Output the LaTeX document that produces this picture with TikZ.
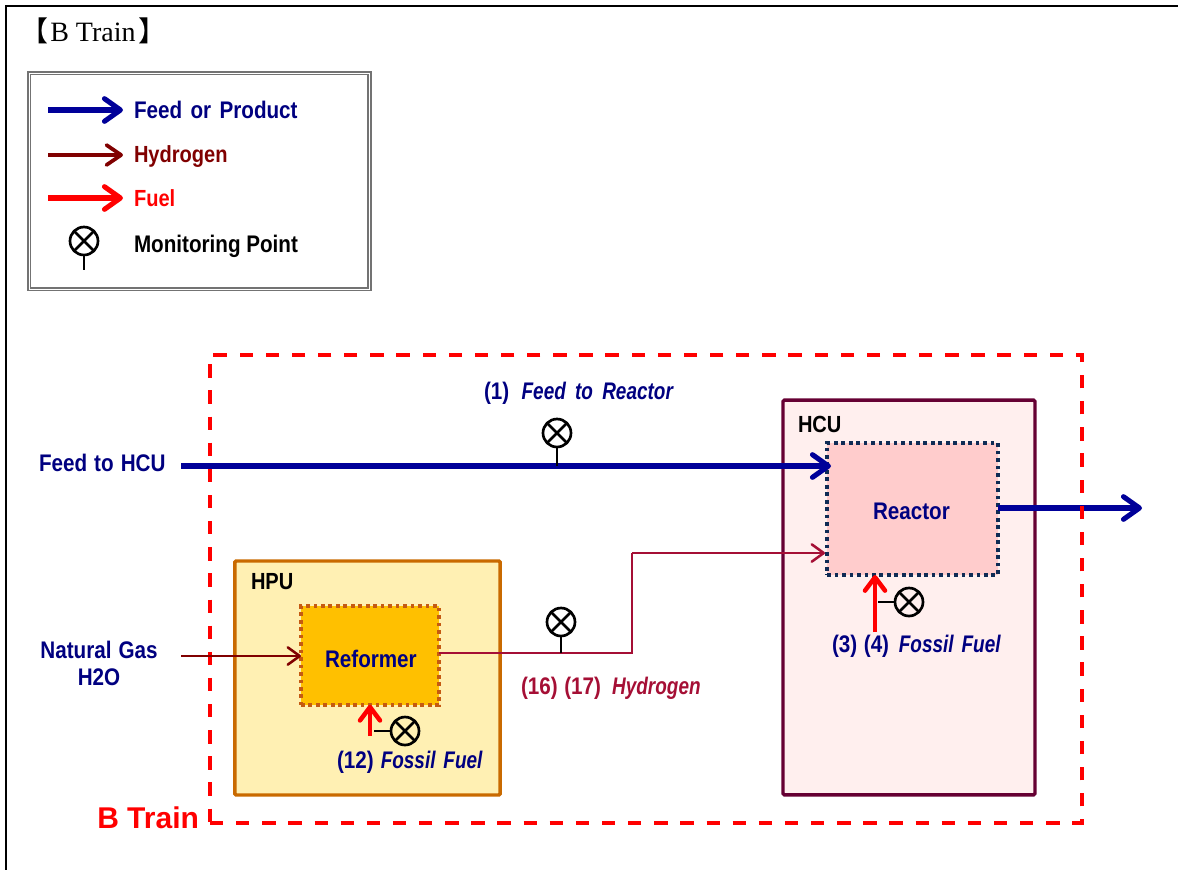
\documentclass[tikz,border=0pt]{standalone}
\usepackage{fontspec}
\usetikzlibrary{arrows.meta}
\setmainfont{Liberation Serif}
\newfontfamily\gothic[FakeStretch=0.86,ItalicFont={Liberation Sans Bold Italic},ItalicFeatures={FakeStretch=0.79}]{Liberation Sans Bold}
\newfontfamily\cjkfont{Noto Sans CJK JP}
\definecolor{feedc}{HTML}{000099}
\definecolor{navyt}{HTML}{000080}
\definecolor{hydroc}{HTML}{800000}
\definecolor{hlinec}{HTML}{A50F35}
\definecolor{fuelc}{HTML}{FF0000}
\tikzset{
  lbl/.style={anchor=base west,inner sep=0pt,outer sep=0pt,font=\gothic\fontsize{18}{20}\selectfont},
  lblsmall/.style={lbl,font=\gothic\fontsize{17.5}{20}\selectfont},
  unitbox/.style={rectangle,inner sep=0pt,outer sep=0pt,line width=2.6pt,rounded corners=1pt},
  innerbox/.style={rectangle,inner sep=0pt,outer sep=0pt,line width=2.6pt,dash pattern=on 2.8pt off 2.8pt},
  feedline/.style={draw=feedc,line width=3.8pt,-{Straight Barb[length=12pt,width=17pt,round]}},
  hydroline/.style={draw=hydroc,line width=1.9pt,-{Straight Barb[length=9pt,width=13pt,round]}},
  hline/.style={draw=hlinec,line width=1.9pt},
  fuelline/.style={draw=fuelc,line width=3.4pt,-{Straight Barb[length=10pt,width=15pt,round]}},
  monitor/.style={circle,draw=black,fill=none,line width=2pt,minimum size=21pt,inner sep=0pt,outer sep=0pt,
    path picture={\draw[line width=2pt] (path picture bounding box.north west) -- (path picture bounding box.south east)
      (path picture bounding box.north east) -- (path picture bounding box.south west);}},
  stem/.style={draw=black,line width=2pt},
}
\begin{document}
\begin{tikzpicture}[x=.75pt,y=-.75pt]
\useasboundingbox (0,0) rectangle (1178,869);
% page frame
\coordinate (fa) at (6,869); \coordinate (fb) at (6,6); \coordinate (fc) at (1178,6);
\draw[line width=1.6pt,line cap=rect] (fa) -- (fb) -- (fc);
\node[anchor=base west,inner sep=0pt,font=\fontsize{21}{24}\selectfont] (title) at (20,41) {{\cjkfont 【}\kern1.5pt B Train\kern2.5pt{\cjkfont 】}};
% legend
\node[rectangle,draw=black!55,double=white,double distance=.7pt,line width=1.3pt,minimum width=255.5pt,minimum height=162pt,inner sep=0pt,outer sep=0pt] (legend) at (199.3,181) {};
\coordinate (la1) at (48,110); \coordinate (la2) at (123,110);
\coordinate (lb1) at (48,155); \coordinate (lb2) at (123,155);
\coordinate (lc1) at (48,198); \coordinate (lc2) at (123,198);
\coordinate (ld) at (84,270);
\draw[feedline] (la1) -- (la2);
\draw[hydroc,line width=2.8pt,-{Straight Barb[length=11pt,width=15pt,round]}] (lb1) -- (lb2);
\draw[fuelc,line width=3.8pt,-{Straight Barb[length=12pt,width=17pt,round]}] (lc1) -- (lc2);
\node[monitor] (lm) at (84,241) {};
\draw[stem] (lm) -- (ld);
\node[lbl,text=navyt] (t1) at (134,118) {Feed\hspace{2pt} or\hspace{2pt} Product};
\node[lblsmall,text=hydroc] (t2) at (134,162) {Hydrogen};
\node[lblsmall,text=fuelc] (t3) at (134,206) {Fuel};
\node[lbl,text=black] (t4) at (134,252) {Monitoring Point};
% units
\node[unitbox,draw={rgb,255:red,102;green,0;blue,51},fill={rgb,255:red,255;green,239;blue,238},minimum width=189pt,minimum height=296pt] (hcu) at (909,597.5) {};
\node[innerbox,draw={rgb,255:red,15;green,43;blue,85},fill={rgb,255:red,255;green,204;blue,204},minimum width=128pt,minimum height=99pt] (reactor) at (912.5,509) {};
\coordinate (out) at (1142,508);
\draw[feedline] (reactor.east |- out) -- (out);
\node[rectangle,draw=fuelc,dash pattern=on 10pt off 9.6pt,line width=2.6pt,minimum width=654pt,minimum height=351pt,inner sep=0pt,outer sep=0pt] (btrain) at (646,589) {};
\node[unitbox,draw={rgb,255:red,201;green,106;blue,0},fill={rgb,255:red,255;green,240;blue,179},minimum width=199pt,minimum height=175.5pt] (hpu) at (367.5,678) {};
\node[innerbox,draw={rgb,255:red,197;green,90;blue,17},fill={rgb,255:red,255;green,192;blue,0},minimum width=103.5pt,minimum height=74pt] (reformer) at (370,655.5) {};
% labels on boxes
\node[lbl,text=black,font=\gothic\fontsize{17.5}{20}\selectfont] (hput) at (251,589) {HPU};
\node[lbl,text=black,font=\gothic\fontsize{17.5}{20}\selectfont] (hcut) at (798,432) {HCU};
\node[lbl,text=navyt] (reft) at (325,667) {Reformer};
\node[lbl,text=navyt] (reat) at (873,519) {Reactor};
\node[anchor=base west,inner sep=0pt,text=fuelc,font=\fontspec{Liberation Sans Bold}\fontsize{22.5}{24}\selectfont] (bt) at (97,828) {B Train};
% feed
\node[lbl,text=navyt] (feedt) at (39,471) {Feed\hspace{1pt} to\hspace{1pt} HCU};
\coordinate (fd1) at (181,466); \coordinate (fd2) at (831,466);
\draw[feedline] (fd1) -- (fd2);
\node[monitor] (m1) at (557,433) {};
\coordinate (m1b) at (557,466);
\draw[stem] (m1) -- (m1b);
\node[lbl,text=navyt] (l1) at (484,399) {(1)\hspace{5pt} \itshape Feed\hspace{3pt} to\hspace{3pt} Reactor};
% hydrogen
\node[lbl,text=navyt,anchor=base] (ng) at (99,658) {Natural\hspace{1pt} Gas};
\node[lbl,text=navyt,anchor=base] (h2o) at (99,685) {H2O};
\coordinate (ng1) at (181,656);
\draw[hydroline] (ng1) -- (reformer.west |- ng1);
\coordinate (h1) at (632,653); \coordinate (h2) at (632,553); \coordinate (h3) at (825,553);
\draw[hline] (reformer.east |- h1) -- (h1) -- (h2);
\draw[hline,-{Straight Barb[length=9pt,width=13pt,round]}] (h2) -- (h3);
\node[monitor] (m2) at (561,622) {};
\coordinate (m2b) at (561,653);
\draw[stem] (m2) -- (m2b);
\node[lbl,text=hlinec] (l2) at (521,694) {(16)\hspace{5pt}(17)\hspace{4pt} \itshape Hydrogen};
% fuel HPU
\coordinate (f1a) at (370,736);
\draw[fuelline] (f1a) -- (reformer.south -| f1a);
\node[monitor] (m3) at (405,731) {};
\coordinate (m3b) at (374,731);
\draw[stem] (m3) -- (m3b);
\node[lbl,text=navyt] (l3) at (337,768) {(12)\hspace{1pt} \itshape Fossil\hspace{2pt} Fuel};
% fuel HCU
\coordinate (f2a) at (875,632);
\draw[fuelline] (f2a) -- (reactor.south -| f2a);
\node[monitor] (m4) at (909,602) {};
\coordinate (m4b) at (878,602);
\draw[stem] (m4) -- (m4b);
\node[lbl,text=navyt] (l4) at (832,652) {(3)\hspace{5pt}(4)\hspace{3pt} \itshape Fossil\hspace{2pt} Fuel};
\end{tikzpicture}
\end{document}
